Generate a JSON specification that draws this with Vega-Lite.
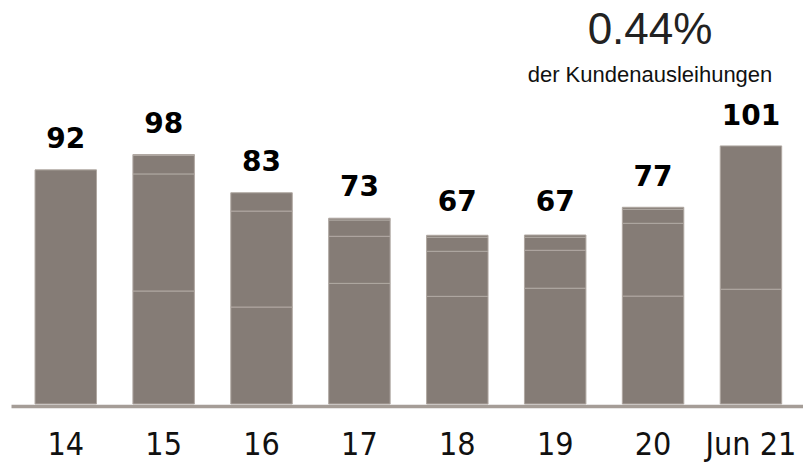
{
  "$schema": "https://vega.github.io/schema/vega-lite/v6.json",
  "width": 792,
  "height": 318.125,
  "autosize": "none",
  "padding": {"left": 11, "top": 85.875, "right": 0, "bottom": 58},
  "background": "white",
  "title": {
    "text": "0.44%",
    "subtitle": "der Kundenausleihungen",
    "anchor": "end",
    "align": "center",
    "dx": -153,
    "frame": "group",
    "font": "Liberation Sans",
    "fontSize": 44,
    "fontWeight": "normal",
    "color": "#222222",
    "subtitleFont": "Liberation Sans",
    "subtitleFontSize": 22,
    "subtitleColor": "#111111",
    "subtitlePadding": 12,
    "offset": 0
  },
  "config": {"view": {"stroke": null}},
  "datasets": {
    "segments": [
      {"year": "14", "seg": 1, "value": 92},
      {"year": "15", "seg": 1, "value": 44.4},
      {"year": "15", "seg": 2, "value": 46.0},
      {"year": "15", "seg": 3, "value": 7.3},
      {"year": "15", "seg": 4, "value": 0.3},
      {"year": "16", "seg": 1, "value": 38.1},
      {"year": "16", "seg": 2, "value": 37.7},
      {"year": "16", "seg": 3, "value": 7.2},
      {"year": "17", "seg": 1, "value": 47.4},
      {"year": "17", "seg": 2, "value": 18.5},
      {"year": "17", "seg": 3, "value": 6.4},
      {"year": "17", "seg": 4, "value": 0.7},
      {"year": "18", "seg": 1, "value": 42.3},
      {"year": "18", "seg": 2, "value": 17.7},
      {"year": "18", "seg": 3, "value": 5.5},
      {"year": "18", "seg": 4, "value": 0.8},
      {"year": "19", "seg": 1, "value": 45.5},
      {"year": "19", "seg": 2, "value": 14.9},
      {"year": "19", "seg": 3, "value": 5.1},
      {"year": "19", "seg": 4, "value": 0.9},
      {"year": "20", "seg": 1, "value": 42.4},
      {"year": "20", "seg": 2, "value": 28.6},
      {"year": "20", "seg": 3, "value": 5.5},
      {"year": "20", "seg": 4, "value": 0.8},
      {"year": "Jun 21", "seg": 1, "value": 45.1},
      {"year": "Jun 21", "seg": 2, "value": 56.3}
    ],
    "totals": [
      {"year": "14", "total": 92},
      {"year": "15", "total": 98},
      {"year": "16", "total": 83},
      {"year": "17", "total": 73},
      {"year": "18", "total": 67},
      {"year": "19", "total": 67},
      {"year": "20", "total": 77},
      {"year": "Jun 21", "total": 101}
    ]
  },
  "encoding": {
    "x": {
      "field": "year",
      "type": "nominal",
      "sort": null,
      "scale": {"paddingInner": 0.372, "paddingOuter": 0.2315, "align": 0.53},
      "axis": {
        "title": null,
        "labelAngle": 0,
        "ticks": false,
        "tickSize": 0,
        "domainColor": "#a59d97",
        "domainWidth": 3.4,
        "offset": 2,
        "labelFont": "Liberation Sans Narrow, DejaVu Sans Condensed, Roboto Condensed, Roboto, sans-serif",
        "labelFontSize": 32,
        "labelColor": "#111111",
        "labelBaseline": "alphabetic",
        "labelPadding": 48,
        "zindex": 1
      }
    }
  },
  "layer": [
    {
      "data": {"name": "segments"},
      "mark": {"type": "bar", "fill": "#857c76", "stroke": "#b0a8a2", "strokeWidth": 1},
      "encoding": {
        "y": {
          "field": "value",
          "type": "quantitative",
          "aggregate": "sum",
          "stack": "zero",
          "scale": {"domain": [0, 125], "nice": false},
          "axis": null
        },
        "detail": {"field": "seg", "type": "ordinal"},
        "order": {"field": "seg", "type": "quantitative", "sort": "ascending"}
      }
    },
    {
      "data": {"name": "totals"},
      "mark": {
        "type": "text",
        "dy": -22,
        "baseline": "alphabetic",
        "font": "DejaVu Sans",
        "fontWeight": "bold",
        "fontSize": 28,
        "color": "#000000"
      },
      "encoding": {
        "y": {"field": "total", "type": "quantitative"},
        "text": {"field": "total", "type": "quantitative"}
      }
    }
  ]
}
